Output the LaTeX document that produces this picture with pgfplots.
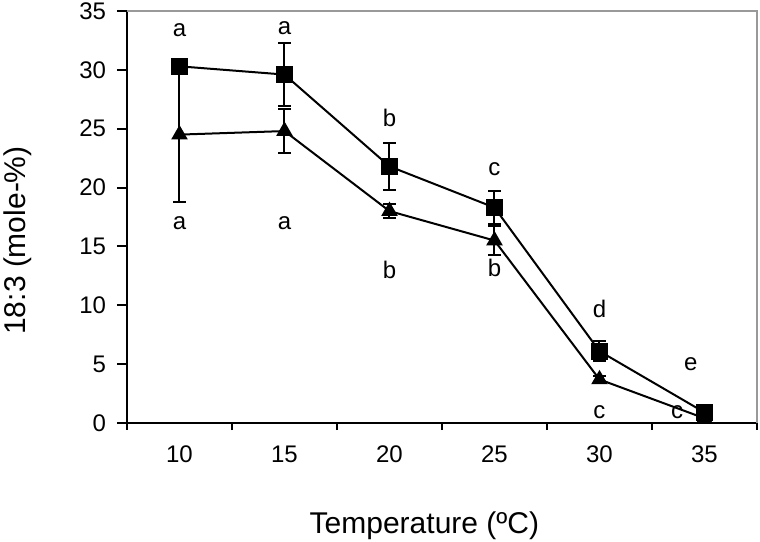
\documentclass[border=0pt]{standalone}
\usepackage{fontspec}
\setmainfont{Liberation Sans}
\usepackage{pgfplots}
\pgfplotsset{compat=1.18}
\usepackage{pgfplotstable}

\pgfplotstableread{
x y e
0 30.3 0.3
1 29.6 2.7
2 21.8 2.0
3 18.3 1.4
4 6.1 0.85
5 0.9 0.4
}\sq
\pgfplotstableread{
x y e
0 24.5 5.7
1 24.8 1.9
2 18.0 0.6
3 15.5 1.2
4 3.7 0.3
5 0.4 0.3
}\tri
\pgfplotstableread{
x y t
0 33.4 a
1 33.5 a
2 25.9 b
3 21.6 c
4 9.7 d
4.87 5.0 e
0 17.0 a
1 17.0 a
2 13.0 b
3 13.2 b
4 0.96 c
4.74 0.96 c
}\letters

\begin{document}
\begin{tikzpicture}
\useasboundingbox (-63.5bp,-59.5bp) rectangle (316.5bp,211.5bp);
\begin{axis}[
  scale only axis, width=315bp, height=206bp,
  xmin=-0.5, xmax=5.5, ymin=0, ymax=35,
  clip=false,
  axis lines*=left,
  axis line style={line width=1bp, black, -},
  xtick={0,...,5}, xticklabels={10,15,20,25,30,35},
  minor xtick={-0.5,0.5,...,5.5},
  ytick={0,5,...,35},
  tick align=outside,
  major tick length=5bp, minor tick length=3.5bp,
  major x tick style={draw=none},
  minor x tick style={line width=1bp, black},
  y tick style={line width=1bp, black},
  /pgf/number format/assume math mode=true,
  ticklabel style={font=\fontsize{12bp}{14bp}\selectfont},
  xticklabel style={yshift=-3bp},
  yticklabel style={xshift=-2bp},
  xlabel={Temperature (ºC)},
  x label style={at={(axis description cs:0.472,0)}, anchor=base, yshift=-55bp, font=\fontsize{15bp}{18bp}\selectfont},
  ylabel={18:3 (mole-\%)},
  y label style={at={(axis description cs:-0.173,0.443)}, anchor=center, font=\fontsize{15bp}{18bp}\selectfont},
]
\draw[gray!80, line width=1bp] (rel axis cs:0,1) -- (rel axis cs:1,1) -- (rel axis cs:1,0);
\addplot[black, line width=1bp, mark=square*, mark size=3.75bp, mark options={solid, fill=black},
  error bars/.cd, y dir=both, y explicit,
  error bar style={line width=1bp, black},
  error mark options={rotate=90, mark size=3.2bp, line width=1bp, black}]
  table[x=x, y=y, y error=e] {\sq};
\addplot[black, line width=1bp, mark=triangle*, mark size=3.8bp, mark options={solid, fill=black},
  error bars/.cd, y dir=both, y explicit,
  error bar style={line width=1bp, black},
  error mark options={rotate=90, mark size=3.2bp, line width=1bp, black}]
  table[x=x, y=y, y error=e] {\tri};
\addplot[only marks, mark=none, nodes near coords, point meta=explicit symbolic,
  every node near coord/.append style={anchor=center, font=\fontsize{12bp}{14bp}\selectfont, inner sep=0pt},
  nodes near coords align={center}]
  table[x=x, y=y, meta=t] {\letters};
\end{axis}
\end{tikzpicture}
\end{document}
